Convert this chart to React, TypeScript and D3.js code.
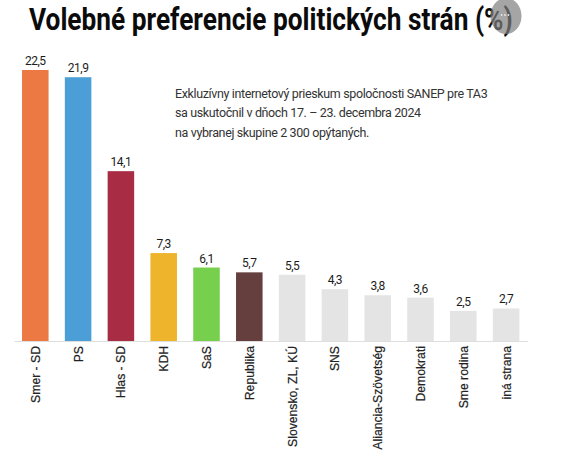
import React, { useEffect, useRef } from 'react';
import * as d3 from 'd3';

const parties = ['Smer - SD', 'PS', 'Hlas - SD', 'KDH', 'SaS', 'Republika', 'Slovensko, ZL, KÚ', 'SNS', 'Aliancia-Szövetség', 'Demokrati', 'Sme rodina', 'iná strana'];
const values = [22.5, 21.9, 14.1, 7.3, 6.1, 5.7, 5.5, 4.3, 3.8, 3.6, 2.5, 2.7];
const colors = ['#ec7843', '#4b9fd6', '#a92c45', '#eeb42c', '#76d04e', '#643f3e', '#e4e4e4', '#e4e4e4', '#e4e4e4', '#e4e4e4', '#e4e4e4', '#e4e4e4'];
const noteLines = [
  'Exkluzívny internetový prieskum spoločnosti SANEP pre TA3',
  'sa uskutočnil v dňoch 17. – 23. decembra 2024',
  'na vybranej skupine 2 300 opýtaných.',
];

const App: React.FC = () => {
  const svgRef = useRef<SVGSVGElement>(null);

  useEffect(() => {
    const svg = d3.select(svgRef.current);
    svg.selectAll('*').remove();

    const baseline = 341;
    const x = d3.scaleBand<string>().domain(parties).range([13.9, 527.5]).paddingInner(0.38).paddingOuter(0.19);
    const y = d3.scaleLinear().domain([0, 22.5]).range([baseline, 70]);
    const fmt = (v: number) => v.toFixed(1).replace('.', ',');

    // Title, squeezed horizontally to the width it has in the original
    const title = svg.append('text')
      .attr('font-family', 'Roboto').attr('font-weight', 700).attr('font-size', 32)
      .attr('fill', '#0b0b0b')
      .text('Volebné preferencie politických strán (%)');
    const titleWidth = title.node()?.getComputedTextLength() || 484;
    title.attr('transform', `translate(29,30) scale(${484 / titleWidth},1)`);

    // Grey round button over the end of the title
    svg.append('ellipse').attr('cx', 506).attr('cy', 16).attr('rx', 15.5).attr('ry', 18).attr('fill', '#7f7f7f').attr('fill-opacity', 0.7);
    svg.selectAll('circle.dot').data([-3.4, 0, 3.4]).enter().append('circle')
      .attr('class', 'dot').attr('cx', d => 505 + d).attr('cy', 15).attr('r', 0.9).attr('fill', '#e8e8e8');

    // Bars
    svg.selectAll('rect.bar').data(values).enter().append('rect')
      .attr('class', 'bar')
      .attr('x', (_, i) => x(parties[i]) as number)
      .attr('y', d => y(d))
      .attr('width', x.bandwidth())
      .attr('height', d => baseline - y(d))
      .attr('fill', (_, i) => colors[i]);

    // Value labels
    svg.selectAll('text.val').data(values).enter().append('text')
      .attr('class', 'val')
      .attr('x', (_, i) => (x(parties[i]) as number) + x.bandwidth() / 2)
      .attr('y', d => y(d) - 5)
      .attr('text-anchor', 'middle')
      .attr('font-family', 'Roboto').attr('font-size', 12).attr('letter-spacing', -0.5).attr('fill', '#1c1c1c')
      .text(d => fmt(d));

    // Category axis
    const axis = svg.append('g').attr('transform', `translate(0,${baseline})`)
      .call(d3.axisBottom(x).tickSize(0).tickPadding(0));
    axis.select('.domain').attr('stroke', '#dedede').attr('stroke-width', 1);
    axis.selectAll<SVGTextElement, string>('text')
      .attr('transform', 'rotate(-90)')
      .attr('x', -5).attr('y', 4.5).attr('dy', 0)
      .attr('text-anchor', 'end')
      .attr('font-family', 'Liberation Sans').attr('font-size', 12.2)
      .attr('fill', '#222').attr('stroke', '#222').attr('stroke-width', 0.2);

    // Note
    svg.selectAll('text.note').data(noteLines).enter().append('text')
      .attr('class', 'note')
      .attr('x', 175).attr('y', (_, i) => 97.5 + i * 19.5)
      .attr('font-family', 'Roboto').attr('font-size', 12.5).attr('letter-spacing', -0.37).attr('fill', '#333')
      .text(d => d);
  }, []);

  return (
    <svg ref={svgRef} width={580} height={455} style={{ position: 'absolute', left: 0, top: 0, background: '#fff' }} />
  );
};

export default App;
